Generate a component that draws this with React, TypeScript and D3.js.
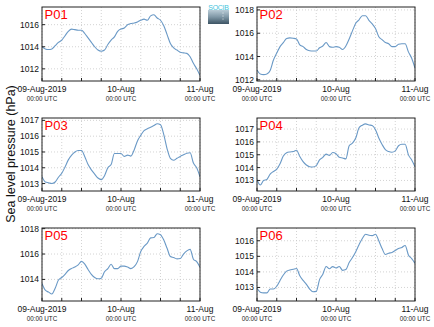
import React from "react";
import * as d3 from "d3";

const startTime = Date.UTC(2019, 7, 9, 0, 0);
const endTime = Date.UTC(2019, 7, 11, 0, 0);

const stationNames = ["P01", "P02", "P03", "P04", "P05", "P06"];

const p01 = [1014.0, 1013.8, 1013.75, 1013.8, 1014.1, 1014.4, 1014.6, 1015.0, 1015.4, 1015.6, 1015.55, 1015.5, 1015.5, 1015.2, 1014.8, 1014.4, 1014.0, 1013.7, 1013.6, 1013.7, 1014.2, 1014.6, 1014.9, 1015.4, 1015.6, 1015.7, 1016.0, 1016.1, 1016.15, 1016.25, 1016.4, 1016.5, 1016.4, 1016.8, 1016.9, 1016.6, 1016.4, 1015.9, 1015.1, 1014.3, 1013.9, 1013.7, 1013.5, 1013.45, 1013.4, 1013.1, 1012.5, 1012.0, 1011.4];
const p02 = [1012.85, 1012.5, 1012.45, 1012.5, 1012.8, 1013.7, 1014.3, 1014.85, 1015.2, 1015.55, 1015.6, 1015.57, 1015.5, 1015.0, 1014.85, 1014.6, 1014.5, 1014.48, 1014.48, 1014.75, 1014.9, 1015.2, 1014.85, 1014.8, 1014.85, 1014.8, 1014.6, 1014.9, 1015.5, 1016.2, 1016.85, 1017.15, 1017.5, 1017.5, 1017.1, 1016.8, 1016.4, 1015.7, 1015.45, 1015.2, 1015.1, 1014.85, 1014.85, 1015.05, 1015.1, 1015.1, 1014.4, 1013.85, 1013.0];
const p03 = [1013.43, 1013.1, 1013.05, 1013.0, 1013.1, 1013.4, 1013.65, 1014.05, 1014.5, 1014.8, 1015.0, 1015.09, 1015.09, 1014.7, 1014.2, 1013.87, 1013.6, 1013.35, 1013.25, 1013.5, 1014.0, 1014.2, 1014.9, 1014.9, 1014.9, 1014.72, 1014.8, 1014.74, 1015.13, 1015.7, 1016.05, 1016.35, 1016.47, 1016.57, 1016.67, 1016.79, 1016.72, 1016.1, 1015.2, 1014.6, 1014.48, 1014.6, 1014.72, 1014.82, 1014.92, 1014.95, 1014.3, 1014.0, 1013.43];
const p04 = [1013.08, 1012.65, 1013.0, 1013.08, 1013.5, 1013.7, 1013.88, 1014.3, 1014.9, 1015.15, 1015.22, 1015.25, 1015.35, 1014.86, 1014.46, 1014.2, 1014.07, 1014.05, 1014.15, 1014.6, 1014.8, 1015.05, 1014.95, 1015.17, 1015.08, 1014.8, 1014.75, 1014.68, 1015.7, 1015.9, 1016.3, 1017.1, 1017.3, 1017.4, 1017.32, 1017.27, 1016.95, 1016.3, 1015.8, 1015.4, 1015.25, 1015.2, 1015.3, 1015.7, 1015.82, 1015.82, 1014.99, 1014.6, 1014.07];
const p05 = [1013.68, 1013.15, 1013.0, 1012.85, 1013.3, 1013.95, 1014.15, 1014.4, 1014.7, 1014.87, 1014.98, 1015.15, 1015.42, 1015.2, 1014.78, 1014.4, 1014.15, 1014.05, 1014.1, 1014.6, 1014.85, 1015.2, 1014.85, 1014.85, 1015.05, 1015.05, 1014.97, 1014.85, 1015.0, 1015.4, 1016.2, 1016.6, 1016.86, 1017.27, 1017.3, 1017.6, 1017.52, 1017.1, 1016.45, 1015.8, 1015.72, 1015.62, 1015.65, 1016.0, 1016.25, 1016.37, 1015.59, 1015.4, 1014.95];
const p06 = [1012.94, 1012.7, 1012.65, 1012.65, 1012.9, 1012.9, 1013.08, 1013.45, 1013.8, 1014.05, 1014.12, 1014.17, 1014.22, 1013.75, 1013.45, 1013.2, 1012.9, 1012.72, 1012.75, 1013.5, 1013.85, 1014.35, 1014.2, 1014.34, 1014.25, 1014.35, 1014.1, 1014.15, 1014.6, 1014.92, 1015.3, 1015.75, 1016.15, 1016.42, 1016.35, 1016.33, 1016.42, 1016.0, 1015.5, 1015.12, 1015.2, 1015.25, 1015.38, 1015.5, 1015.57, 1015.7, 1015.09, 1014.85, 1014.55];

const seriesValues = [p01, p02, p03, p04, p05, p06];

const yDomains: [number, number][] = [
  [1010.9, 1017.6],
  [1011.9, 1018.25],
  [1012.53, 1017.15],
  [1012.18, 1017.86],
  [1012.3, 1018.05],
  [1012.13, 1016.82],
];

const yTickValues = [
  [1012, 1014, 1016],
  [1012, 1014, 1016, 1018],
  [1013, 1014, 1015, 1016, 1017],
  [1013, 1014, 1015, 1016, 1017],
  [1014, 1016, 1018],
  [1013, 1014, 1015, 1016],
];

const xTickLabels = ["09-Aug-2019", "10-Aug", "11-Aug"];
const xTickSubLabel = "00:00 UTC";
const yAxisTitle = "Sea level pressure (hPa)";

const FONT = "'Liberation Sans', Arial, Helvetica, sans-serif";

const colLefts = [42, 257];
const rowTops = [7, 118, 228];
const rowHeights = [74, 73, 73];
const panelW = 158;

function Panel({ idx }: { idx: number }) {
  const col = idx % 2;
  const row = Math.floor(idx / 2);
  const left = colLefts[col];
  const top = rowTops[row];
  const h = rowHeights[row];
  const x = d3.scaleUtc().domain([new Date(startTime), new Date(endTime)]).range([0, panelW]);
  const y = d3.scaleLinear().domain(yDomains[idx]).range([h, 0]);
  const vals = seriesValues[idx];
  const times = d3.utcHour.range(new Date(startTime), new Date(endTime + 1));
  const data = vals.map((v, i) => ({ t: times[i], v }));
  const line = d3
    .line<{ t: Date; v: number }>()
    .x((d) => x(d.t))
    .y((d) => y(d.v))
    .curve(d3.curveMonotoneX);
  const gridTimes = d3.utcHour.every(6)!.range(new Date(startTime), new Date(endTime + 1));
  const dayTicks = d3.utcDay.range(new Date(startTime), new Date(endTime + 1));
  return (
    <g transform={`translate(${left},${top})`}>
      <rect x={0} y={0} width={panelW} height={h} fill="#fff" />
      {gridTimes.map((t, i) => (
        <line key={"gx" + i} x1={x(t)} x2={x(t)} y1={0} y2={h} stroke="#c8c8c8" strokeWidth={0.8} strokeDasharray="1,2" />
      ))}
      {yTickValues[idx].map((v, i) => (
        <line key={"gy" + i} x1={0} x2={panelW} y1={y(v)} y2={y(v)} stroke="#c8c8c8" strokeWidth={0.8} strokeDasharray="1,2" />
      ))}
      <clipPath id={"clip" + idx}>
        <rect x={0} y={0} width={panelW} height={h} />
      </clipPath>
      <path d={line(data) || ""} fill="none" stroke="#6a99c6" strokeWidth={1.1} clipPath={`url(#clip${idx})`} />
      {gridTimes.map((t, i) => (
        <line key={"tx" + i} x1={x(t)} x2={x(t)} y1={h} y2={h - 3} stroke="#222" strokeWidth={1} />
      ))}
      {yTickValues[idx].map((v, i) => (
        <g key={"ty" + i}>
          <line x1={0} x2={3} y1={y(v)} y2={y(v)} stroke="#222" strokeWidth={1} />
          <text x={-3} y={y(v)} dy="0.35em" textAnchor="end" fontSize={8.5} fontFamily={FONT} fill="#111">
            {v}
          </text>
        </g>
      ))}
      {dayTicks.map((t, i) => (
        <g key={"lx" + i} transform={`translate(${x(t)},${h})`}>
          <text y={11} textAnchor="middle" fontSize={8.5} fontFamily={FONT} fill="#111">
            {xTickLabels[i]}
          </text>
          <text y={20} textAnchor="middle" fontSize={6.3} fontFamily={FONT} fill="#222">
            {xTickSubLabel}
          </text>
        </g>
      ))}
      <rect x={0} y={0} width={panelW} height={h} fill="none" stroke="#222" strokeWidth={1} />
      <text x={2.5} y={12} fontSize={13} fontFamily={FONT} fill="#ff0000">
        {stationNames[idx]}
      </text>
    </g>
  );
}

function Logo() {
  return (
    <g transform="translate(207,3)">
      <defs>
        <linearGradient id="logoGrad" x1="0" y1="0" x2="0" y2="1">
          <stop offset="0" stopColor="#b9cbd6" />
          <stop offset="0.5" stopColor="#7f97a6" />
          <stop offset="1" stopColor="#3c5363" />
        </linearGradient>
      </defs>
      <rect x={1} y={7} width={21} height={14} fill="url(#logoGrad)" />
      <text x={11.5} y={6.5} textAnchor="middle" fontSize={7} fontFamily={FONT} fill="#3fc4dc" letterSpacing={-0.3}>
        SOCIB
      </text>
      <circle cx={16} cy={10} r={0.5} fill="#fff" />
      <circle cx={16} cy={13} r={0.5} fill="#fff" />
      <circle cx={16} cy={16} r={0.5} fill="#fff" />
    </g>
  );
}

export default function App() {
  return (
    <svg width={434} height={327} style={{ position: "absolute", left: 0, top: 0, background: "#fff" }}>
      <rect x={0} y={0} width={434} height={327} fill="#fff" />
      <Logo />
      {stationNames.map((_, i) => (
        <Panel key={i} idx={i} />
      ))}
      <text
        transform="translate(15,154) rotate(-90)"
        textAnchor="middle"
        fontSize={12.5}
        fontFamily={FONT}
        fill="#111"
      >
        {yAxisTitle}
      </text>
    </svg>
  );
}
